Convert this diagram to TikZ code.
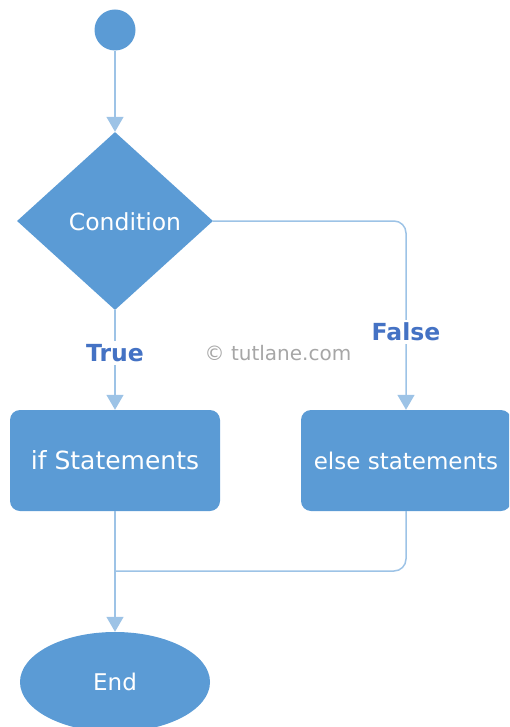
\documentclass[tikz,border=0pt]{standalone}
\usepackage{fontspec}
\setmainfont{DejaVu Sans}
\usetikzlibrary{shapes.geometric,arrows.meta}
\definecolor{boxblue}{HTML}{5B9BD5}
\definecolor{lineblue}{HTML}{9DC3E6}
\definecolor{lblblue}{HTML}{4472C4}
\definecolor{wmgrey}{HTML}{A6A6A6}
\tikzset{
  shapefill/.style={fill=boxblue, draw=none, text=white, inner sep=0pt},
  stmtbox/.style={shapefill, rectangle, rounded corners=10pt, minimum width=210pt, minimum height=101pt, font=\fontsize{23}{27}\selectfont},
  conn/.style={draw=lineblue, line width=1.5pt},
  connarrow/.style={conn, -{Triangle[width=17pt,length=15pt]}},
  branchlbl/.style={fill=white, text=lblblue, font=\bfseries\fontsize{23.5}{27}\selectfont, inner sep=3pt},
}
\begin{document}
\begin{tikzpicture}
\useasboundingbox (0pt,0pt) rectangle (509pt,-727pt);
\clip (0pt,0pt) rectangle (509pt,-727pt);
% shapes
\node[shapefill, circle, minimum size=41pt] (start) at (115pt,-30pt) {};
\node[shapefill, diamond, minimum width=196pt, minimum height=178pt] (cond) at (115pt,-221pt) {};
\node[text=white, font=\fontsize{23.5}{27}\selectfont] (condtext) at (125pt,-222pt) {Condition};
\node[stmtbox, font=\fontsize{25}{29}\selectfont] (ifbox) at (115pt,-460.5pt) {if Statements};
\node[stmtbox] (elsebox) at (406pt,-460.5pt) {else statements};
\node[shapefill, ellipse, minimum width=190pt, minimum height=100pt, font=\fontsize{23}{27}\selectfont] (endnode) at (115pt,-682pt) {End};
\coordinate (merge) at (115pt,-571pt);
% connectors
\draw[connarrow] (start.south) -- (cond.north);
\draw[connarrow] (cond.south) -- (ifbox.north);
\draw[connarrow, rounded corners=12pt] (cond.east) -| (elsebox.north);
\draw[conn, rounded corners=12pt] (elsebox.south) |- (merge);
\draw[connarrow] (ifbox.south) -- (endnode.north);
% labels
\node[branchlbl] (truelbl) at (115pt,-353pt) {True};
\node[branchlbl] (falselbl) at (406pt,-332pt) {False};
\node[text=wmgrey, font=\fontsize{20}{24}\selectfont] (wm) at (278pt,-353pt) {© tutlane.com};
\end{tikzpicture}
\end{document}
